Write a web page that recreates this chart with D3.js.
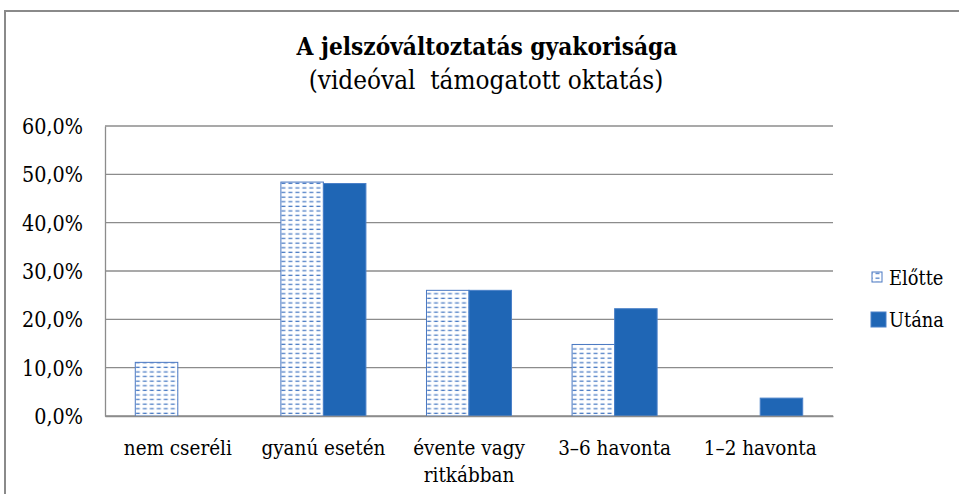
<!DOCTYPE html>
<html>
<head>
<meta charset="utf-8">
<script src="https://cdn.jsdelivr.net/npm/d3@7"></script>
<style>
  body { margin: 0; background: #fff; }
</style>
</head>
<body>
<div id="chart"></div>
<script>
// data
const categories = ["nem cseréli", "gyanú esetén", "évente vagy\nritkábban", "3–6 havonta", "1–2 havonta"];
const seriesNames = ["Előtte", "Utána"];
const beforeValues = [11.1, 48.4, 26.0, 14.8, 0];
const afterValues = [0, 48.1, 26.0, 22.2, 3.7];
const yTicks = [0, 10, 20, 30, 40, 50, 60];

const W = 959, H = 494;
const margin = { left: 105, right: 126, top: 126, bottom: 78 };
const serif = "'DejaVu Serif Condensed', 'DejaVu Serif', serif";

const svg = d3.select("#chart")
    .append("svg")
    .attr("width", W)
    .attr("height", H)
    .attr("font-family", serif);

// pick a font size so that a sample string gets the width it has in the picture
function fitSize(sample, weight, targetW) {
    const t = svg.append("text")
        .attr("font-family", serif)
        .attr("font-weight", weight)
        .attr("font-size", 100)
        .style("white-space", "pre")
        .text(sample);
    const w = t.node().getComputedTextLength();
    t.remove();
    return 100 * targetW / w;
}
const titleSize = fitSize("A jelszóváltoztatás gyakorisága", "bold", 381);
const subSize = fitSize("(videóval  támogatott oktatás)", "normal", 355);
const tickSize = fitSize("60,0%", "normal", 61);
const catSize = fitSize("gyanú esetén", "normal", 124);
const legSize = fitSize("Utána", "normal", 55);

// dashed fill for "Előtte"
const defs = svg.append("defs");
const pat = defs.append("pattern")
    .attr("id", "dash")
    .attr("patternUnits", "userSpaceOnUse")
    .attr("width", 7)
    .attr("height", 4.6);
pat.append("rect").attr("width", 7).attr("height", 4.6).attr("fill", "#fff");
pat.append("rect").attr("x", 0.5).attr("y", 1.5).attr("width", 4).attr("height", 1.3).attr("fill", "#4f7fc6");

// outer frame (left and top edges visible)
svg.append("path")
    .attr("d", `M5,${H} V11 H${W}`)
    .attr("fill", "none")
    .attr("stroke", "#8a8a8a")
    .attr("stroke-width", 2);

// titles
svg.append("text")
    .attr("x", 487).attr("y", 55)
    .attr("text-anchor", "middle")
    .attr("font-size", titleSize)
    .attr("font-weight", "bold")
    .text("A jelszóváltoztatás gyakorisága");
svg.append("text")
    .attr("x", 486).attr("y", 89)
    .attr("text-anchor", "middle")
    .attr("font-size", subSize)
    .style("white-space", "pre")
    .text("(videóval  támogatott oktatás)");

const plotW = W - margin.left - margin.right;
const plotH = H - margin.top - margin.bottom;
const g = svg.append("g").attr("transform", `translate(${margin.left},${margin.top})`);

const y = d3.scaleLinear().domain([0, 60]).range([plotH, 0]);
const pIn = 0.416;
const x0 = d3.scaleBand().domain(categories).range([0, plotW]).paddingInner(pIn).paddingOuter(pIn / 2);
const x1 = d3.scaleBand().domain(seriesNames).range([0, x0.bandwidth()]).padding(0);

const locale = d3.formatLocale({ decimal: ",", thousands: " ", grouping: [3], currency: ["", ""] });
const fmt = locale.format(".1f");

// grid lines
g.append("g")
    .selectAll("line")
    .data(yTicks)
    .enter()
    .append("line")
    .attr("x1", 0).attr("x2", plotW)
    .attr("y1", d => y(d)).attr("y2", d => y(d))
    .attr("stroke", "#8c8c8c")
    .attr("stroke-width", 1.3);

// Y axis
const yAxis = g.append("g")
    .call(d3.axisLeft(y).tickValues(yTicks).tickSize(0).tickPadding(22).tickFormat(d => fmt(d) + "%"));
yAxis.attr("font-family", serif).attr("font-size", tickSize);
yAxis.select(".domain").attr("stroke", "#8c8c8c").attr("stroke-width", 1.3);
yAxis.selectAll("text").attr("fill", "#000").attr("dy", "0.35em");

// bars
const rows = categories.map((c, i) => ({ cat: c, values: [beforeValues[i], afterValues[i]] }));
const groups = g.append("g")
    .selectAll("g")
    .data(rows)
    .enter()
    .append("g")
    .attr("transform", d => `translate(${x0(d.cat)},0)`);

groups.selectAll("rect")
    .data(d => d.values.map((v, i) => ({ key: seriesNames[i], v: v })).filter(e => e.v > 0))
    .enter()
    .append("rect")
    .attr("x", d => x1(d.key))
    .attr("y", d => y(d.v))
    .attr("width", x1.bandwidth())
    .attr("height", d => plotH - y(d.v))
    .attr("fill", d => d.key === "Előtte" ? "url(#dash)" : "#1f66b5")
    .attr("stroke", d => d.key === "Előtte" ? "#4a78c2" : "#4a80c8")
    .attr("stroke-width", 1);

// X axis
const xAxis = g.append("g")
    .attr("transform", `translate(0,${plotH})`)
    .call(d3.axisBottom(x0).tickSize(0).tickFormat(""));
xAxis.select(".domain").attr("stroke", "#8c8c8c").attr("stroke-width", 1.3);

const labels = g.append("g")
    .selectAll("text")
    .data(categories)
    .enter()
    .append("text")
    .attr("x", d => x0(d) + x0.bandwidth() / 2)
    .attr("y", plotH + 39)
    .attr("text-anchor", "middle")
    .attr("font-size", catSize);
labels.selectAll("tspan")
    .data(d => d.split("\n"))
    .enter()
    .append("tspan")
    .attr("x", function () { return d3.select(this.parentNode).attr("x"); })
    .attr("dy", (d, i) => i === 0 ? 0 : 27)
    .text(d => d);

// legend
const legend = svg.append("g")
    .selectAll("g")
    .data(seriesNames)
    .enter()
    .append("g")
    .attr("transform", (d, i) => `translate(0,${i * 42})`);

legend.append("rect")
    .attr("x", d => d === "Előtte" ? 872 : 871)
    .attr("y", d => d === "Előtte" ? 272 : 270)
    .attr("width", d => d === "Előtte" ? 10 : 15)
    .attr("height", d => d === "Előtte" ? 10 : 15)
    .attr("fill", d => d === "Előtte" ? "url(#dash)" : "#1f66b5")
    .attr("stroke", d => d === "Előtte" ? "#4a78c2" : "#4a80c8");

legend.append("text")
    .attr("x", 889)
    .attr("y", 285)
    .attr("font-size", legSize)
    .text(d => d);
</script>
</body>
</html>
